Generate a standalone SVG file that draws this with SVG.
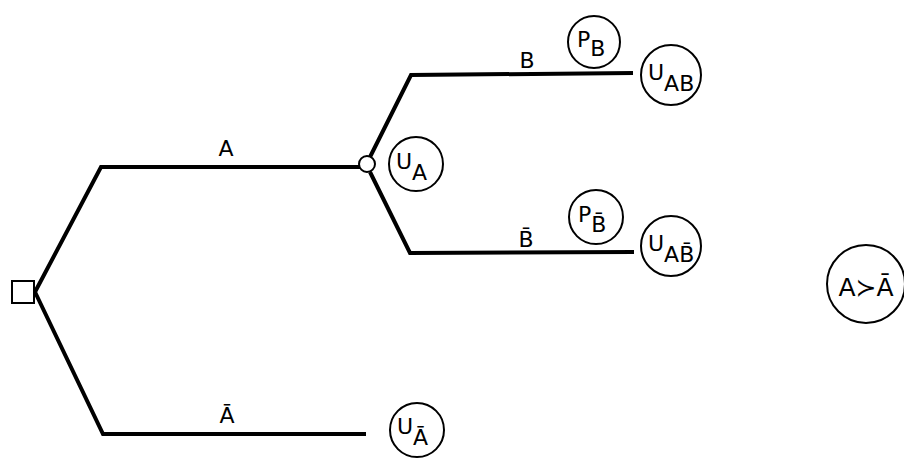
<svg xmlns="http://www.w3.org/2000/svg" width="904" height="460" viewBox="0 0 904 460">
<style>
.br{fill:none;stroke:#000;stroke-width:4;stroke-linejoin:miter}
.c{fill:#fff;stroke:#000;stroke-width:2}
.t{font-family:"DejaVu Sans","Liberation Sans",sans-serif;font-size:22px;fill:#000}
.m{text-anchor:middle}
</style>
<rect width="904" height="460" fill="#fff"/>
<g id="connectors">
<polyline class="br" points="35,292 101,167 360,167"/>
<polyline class="br" points="35,292 103,434 366,434"/>
<polyline class="br" points="370,157 411,75 633,73"/>
<polyline class="br" points="370,172 410,253 634,252"/>
</g>
<g id="labels">
<text class="t m" x="226" y="156">A</text>
<text class="t m" x="227" y="423">Ā</text>
<text class="t m" x="527" y="68">B</text>
<text class="t m" x="526" y="247">B̄</text>
</g>
<g id="decision"><rect x="12" y="281" width="22" height="22" fill="#fff" stroke="#000" stroke-width="2"/></g>
<g id="chance"><circle class="c" cx="367" cy="164" r="8"/></g>
<g id="UA"><circle class="c" cx="416" cy="164" r="27"/><text class="t" x="396" y="169">U<tspan dy="11">A</tspan></text></g>
<g id="PB"><circle class="c" cx="594" cy="42" r="26"/><text class="t" x="577" y="47">P<tspan dy="9">B</tspan></text></g>
<g id="PBbar"><circle class="c" cx="596" cy="217" r="27"/><text class="t" x="578" y="222">P<tspan dy="10">B̄</tspan></text></g>
<g id="UAB"><circle class="c" cx="671" cy="75" r="30"/><text class="t" x="648" y="80">U<tspan dy="11">AB</tspan></text></g>
<g id="UABbar"><circle class="c" cx="671" cy="246" r="30"/><text class="t" x="648" y="251">U<tspan dy="11">AB̄</tspan></text></g>
<g id="UAbar"><circle class="c" cx="417" cy="430" r="27"/><text class="t" x="397" y="434">U<tspan dy="11">Ā</tspan></text></g>
<g id="pref"><circle class="c" cx="866" cy="284" r="39"/><text class="t m" x="866" y="296" style="font-size:25px">A≻Ā</text></g>
</svg>
